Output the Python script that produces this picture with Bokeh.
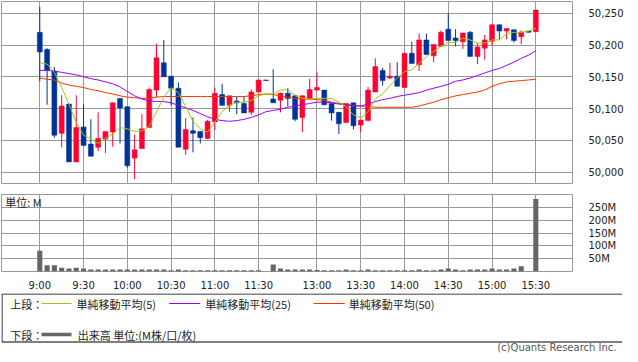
import numpy as np
from bokeh.plotting import figure
from bokeh.layouts import column
from bokeh.models import Range1d, FixedTicker, NumeralTickFormatter, PrintfTickFormatter, Label, ColumnDataSource
from bokeh.embed import file_html
from bokeh.resources import INLINE
from bokeh.core.properties import value

# ---- data (5-minute bars, index 0 = 9:00 ... 68 = 15:30) ----
open_ = [50220, 50193, 50159, 50061, 50107, 50016, 50071, 50044, 50039, 50052,
         50063, 50116, 50103, 50022, 50037, 50070, 50129, 50172, 50151, 50132,
         50036, 50065, 50064, 50053, 50079, 50122, 50105, 50112, 50108, 50094,
         50126, 50145, 50115, 50113, 50124, 50120, 50086, 50115, 50129, 50129,
         50108, 50094, 50078, 50109, 50074, 50081, 50126, 50160, 50148, 50151,
         50133, 50187, 50169, 50208, 50183, 50198, 50225, 50211, 50205, 50220,
         50182, 50195, 50206, 50232, 50222, 50224, 50213, 50222, 50221]
high = [50260, 50195, 50165, 50121, 50107, 50121, 50107, 50083, 50094, 50064,
        50109, 50116, 50103, 50059, 50091, 50133, 50202, 50208, 50151, 50141,
        50085, 50086, 50064, 50082, 50133, 50139, 50120, 50119, 50119, 50130,
        50145, 50145, 50162, 50125, 50132, 50122, 50121, 50147, 50157, 50129,
        50108, 50094, 50108, 50109, 50082, 50134, 50179, 50164, 50172, 50173,
        50187, 50205, 50218, 50218, 50201, 50223, 50250, 50225, 50219, 50222,
        50203, 50216, 50232, 50232, 50226, 50224, 50223, 50222, 50255]
low = [50143, 50106, 50054, 50039, 50016, 50016, 50042, 50025, 50033, 50030,
       50040, 50045, 50007, 49989, 50037, 50070, 50118, 50150, 50105, 50039,
       50027, 50031, 50045, 50052, 50066, 50105, 50095, 50091, 50093, 50090,
       50126, 50144, 50109, 50094, 50103, 50080, 50063, 50115, 50128, 50105,
       50081, 50060, 50078, 50067, 50063, 50081, 50126, 50136, 50147, 50135,
       50133, 50171, 50159, 50185, 50173, 50198, 50207, 50198, 50194, 50182,
       50170, 50177, 50199, 50209, 50209, 50204, 50201, 50220, 50221]
close = [50189, 50160, 50058, 50104, 50016, 50070, 50042, 50025, 50053, 50064,
         50109, 50101, 50010, 50035, 50068, 50130, 50180, 50150, 50132, 50039,
         50067, 50061, 50054, 50080, 50124, 50105, 50120, 50109, 50093, 50126,
         50145, 50144, 50109, 50124, 50116, 50083, 50120, 50130, 50133, 50106,
         50093, 50076, 50108, 50073, 50082, 50129, 50166, 50144, 50151, 50135,
         50187, 50171, 50208, 50185, 50201, 50220, 50207, 50207, 50219, 50182,
         50197, 50208, 50232, 50222, 50226, 50207, 50220, 50220, 50255]
ma5 = [50172, 50170, 50157, 50133, 50107, 50078, 50058, 50052, 50045, 50053,
       50060, 50070, 50068, 50064, 50065, 50072, 50095, 50118, 50133, 50125,
       50103, 50080, 50068, 50063, 50079, 50095, 50105, 50110, 50110, 50113,
       50120, 50123, 50123, 50129, 50130, 50120, 50116, 50115, 50116, 50116,
       50116, 50110, 50103, 50090, 50085, 50095, 50115, 50123, 50136, 50148,
       50158, 50161, 50171, 50182, 50190, 50198, 50204, 50204, 50211, 50208,
       50203, 50203, 50208, 50208, 50218, 50220, 50220, 50222, 50226]
ma25 = [50160, 50160, 50159, 50157, 50155, 50153, 50150, 50147, 50145, 50142,
        50139, 50134, 50127, 50120, 50115, 50112, 50111, 50111, 50109, 50105,
        50101, 50097, 50092, 50087, 50083, 50081, 50080, 50081, 50083, 50086,
        50090, 50095, 50097, 50099, 50102, 50104, 50106, 50108, 50110, 50110,
        50109, 50107, 50106, 50104, 50104, 50107, 50111, 50114, 50116, 50119,
        50121, 50123, 50125, 50129, 50132, 50135, 50138, 50143, 50145, 50148,
        50152, 50156, 50160, 50163, 50168, 50173, 50179, 50184, 50191]
ma50 = [50148, 50146, 50145, 50140, 50137, 50135, 50133, 50130, 50128, 50125,
        50123, 50120, 50118, 50117, 50116, 50116, 50118, 50119, 50119, 50119,
        50119, 50119, 50119, 50119, 50119, 50119, 50119, 50119, 50119, 50120,
        50122, 50123, 50122, 50120, 50118, 50116, 50115, 50115, 50114, 50113,
        50110, 50108, 50107, 50105, 50104, 50103, 50102, 50102, 50102, 50102,
        50102, 50102, 50104, 50107, 50110, 50114, 50117, 50120, 50122, 50124,
        50126, 50129, 50135, 50139, 50142, 50143, 50144, 50145, 50146]
volume_m = [81, 24, 24, 15, 12, 15, 12, 8, 8, 8,
            8, 8, 8, 8, 8, 8, 8, 8, 5, 8,
            5, 5, 5, 5, 5, 5, 5, 5, 5, 5,
            5, 0, 27, 12, 8, 8, 8, 8, 6, 5,
            5, 5, 8, 5, 5, 8, 5, 5, 5, 5,
            5, 5, 8, 5, 5, 8, 12, 8, 5, 8,
            8, 8, 12, 8, 8, 12, 20, 1, 282]
tick_idx = [0, 6, 12, 18, 24, 30, 38, 44, 50, 56, 62, 68]
tick_labels = ["9:00", "9:30", "10:00", "10:30", "11:00", "11:30",
               "13:00", "13:30", "14:00", "14:30", "15:00", "15:30"]
price_ticks = [50000, 50050, 50100, 50150, 50200, 50250]
vol_ticks = [50, 100, 150, 200, 250]

UP = "#FF0033"
DOWN = "#003399"
GRID = "#999999"
NUMFONT = "DejaVu Sans"
JPFONT = "Noto Sans CJK JP"

x = np.arange(len(close))
o = np.array(open_); c = np.array(close)
colors = [UP if cc >= oo else DOWN for oo, cc in zip(o, c)]
src = ColumnDataSource(dict(x=x, o=o, h=high, l=low, c=c,
                            top=np.maximum(o, c), bot=np.minimum(o, c), col=colors))

xr = Range1d(-5.25, 73.03)

# ---- main price panel ----
p1 = figure(frame_width=571, frame_height=182, x_range=xr, y_range=Range1d(49982, 50268.5),
            x_axis_location=None, y_axis_location="right", toolbar_location=None,
            output_backend="svg", min_border_left=1, min_border_top=1,
            min_border_bottom=1, min_border_right=2)
p1.outline_line_color = GRID
p1.xgrid.ticker = FixedTicker(ticks=tick_idx)
p1.ygrid.ticker = FixedTicker(ticks=price_ticks)
for g in (p1.xgrid, p1.ygrid):
    g.grid_line_color = GRID
    g.grid_line_width = 1
p1.yaxis.ticker = FixedTicker(ticks=price_ticks)
p1.yaxis.formatter = NumeralTickFormatter(format="0,0")
p1.yaxis.axis_line_color = None
p1.yaxis.major_tick_line_color = None
p1.yaxis.minor_tick_line_color = None
p1.yaxis.major_label_standoff = 10
p1.yaxis.major_label_text_font = NUMFONT
p1.yaxis.major_label_text_font_size = "10px"
p1.yaxis.major_label_text_color = "#222222"

p1.segment(x0="x", y0="h", x1="x", y1="l", color="col", line_width=1, source=src)
p1.vbar(x="x", width=0.68, top="top", bottom="bot", fill_color="col", line_color="col",
        line_width=0.5, source=src)
p1.line(x, ma50, color="#FF3300", line_width=1)
p1.line(x, ma25, color="#9900FF", line_width=1)
p1.line(x, ma5, color="#99CC00", line_width=1)

# ---- volume panel ----
p2 = figure(frame_width=571, frame_height=77, x_range=xr, y_range=Range1d(0, 300),
            y_axis_location="right", toolbar_location=None, output_backend="svg",
            min_border_left=1, min_border_top=10, min_border_bottom=15, min_border_right=2)
p2.outline_line_color = GRID
p2.xgrid.ticker = FixedTicker(ticks=tick_idx)
p2.ygrid.ticker = FixedTicker(ticks=vol_ticks)
for g in (p2.xgrid, p2.ygrid):
    g.grid_line_color = GRID
    g.grid_line_width = 1
p2.xaxis.ticker = FixedTicker(ticks=tick_idx)
p2.xaxis.major_label_overrides = {i: s for i, s in zip(tick_idx, tick_labels)}
p2.yaxis.ticker = FixedTicker(ticks=vol_ticks)
p2.yaxis.formatter = PrintfTickFormatter(format="%dM")
for ax in (p2.xaxis[0], p2.yaxis[0]):
    ax.axis_line_color = None
    ax.major_tick_line_color = None
    ax.minor_tick_line_color = None
    ax.major_label_text_font = NUMFONT
    ax.major_label_text_font_size = "10px"
    ax.major_label_text_color = "#222222"
p2.xaxis.major_label_standoff = 2
p2.yaxis.major_label_standoff = 10
p2.vbar(x=x, top=volume_m, width=0.7, bottom=0, fill_color="#666666", line_color=None)
p2.add_layout(Label(x=-4.75, y=269, text="単位: M", text_font=JPFONT,
                    text_font_size="11px", text_baseline="middle", text_color="#222222"))

# ---- legend / footer ----
p3 = figure(frame_width=622, frame_height=60, x_range=Range1d(0, 622), y_range=Range1d(60, 0),
            x_axis_location=None, y_axis_location=None, toolbar_location=None,
            output_backend="svg", min_border=0)
p3.outline_line_color = None
p3.xgrid.visible = False
p3.ygrid.visible = False
p3.quad(left=0.5, right=621.5, top=0.5, bottom=48.5, fill_color=None, line_color="#000000", line_width=1)
p3.segment(x0=[40, 167.7, 312], y0=[10, 10, 10], x1=[70, 198.7, 343.3], y1=[10, 10, 10],
           color=["#99CC00", "#9900FF", "#FF3300"], line_width=1)
p3.segment(x0=[40], y0=[41], x1=[70], y1=[41], color="#666666", line_width=3.5)
p3.text(x=[8.7, 75, 203.7, 347.3, 8.7, 76.3], y=[10, 10, 10, 10, 41, 41],
        text=["上段：", "単純移動平均(5)", "単純移動平均(25)", "単純移動平均(50)", "下段：",
              "出来高 単位:(M株/口/枚)"],
        text_font=value(JPFONT), text_font_size="11px", text_baseline="middle", text_color="#222222")
p3.text(x=[615], y=[54], text=["(c)Quants Research Inc."], text_font=value(NUMFONT),
        text_font_size="10px", text_align="right", text_baseline="middle", text_color="#555555")

layout = column(p1, p2, p3, spacing=0)
open("out.html", "w").write(file_html(layout, INLINE))
